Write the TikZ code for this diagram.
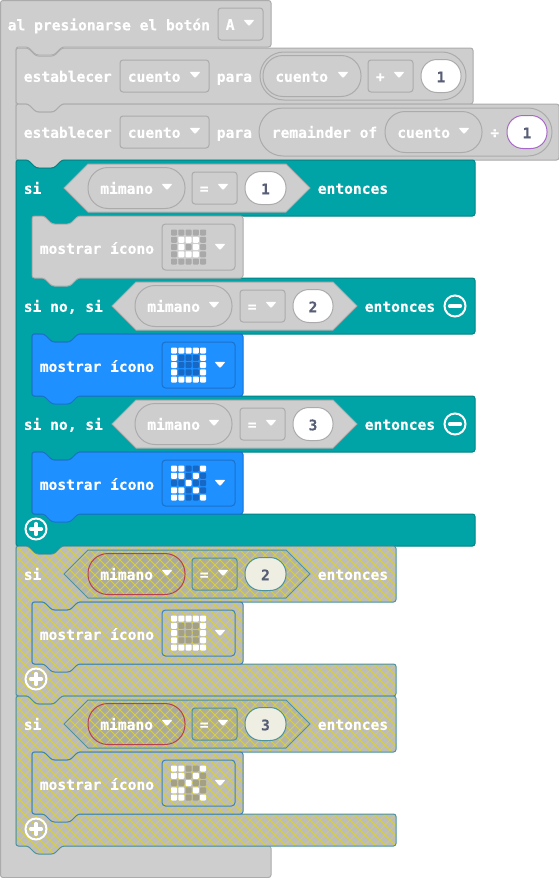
\documentclass[tikz,border=0pt]{standalone}
\usepackage{fontspec}
\newfontfamily\blockfont[BoldFont={DejaVu Sans Mono Bold},BoldFeatures={FakeBold=0.25}]{DejaVu Sans Mono}
\definecolor{grayfill}{HTML}{CECECE}
\definecolor{grayline}{HTML}{ABABAB}
\definecolor{tealfill}{HTML}{00A4A6}
\definecolor{tealline}{HTML}{008385}
\definecolor{bluefill}{HTML}{1E90FF}
\definecolor{blueline}{HTML}{1A72CC}
\definecolor{hatchline}{HTML}{D6D040}
\definecolor{hatchedge}{HTML}{4A92A0}
\definecolor{hatchblue}{HTML}{3A84B8}
\definecolor{hatchred}{HTML}{B84050}
\definecolor{numtext}{HTML}{575E75}
\definecolor{numpale}{HTML}{EEEEE2}
\definecolor{numedge}{HTML}{A868C8}
\definecolor{dimgray}{HTML}{A9A9A9}
\definecolor{dimblue}{HTML}{1668C4}
\definecolor{dimhatch}{HTML}{A3A084}
\definecolor{basehatch}{HTML}{BCBCBC}
\definecolor{basehex}{HTML}{B4B4AA}
\definecolor{basepill}{HTML}{AAAAA0}
\definecolor{basedrop}{HTML}{B0AE98}
\tikzset{
  crosshatch/.style={fill=#1,path picture={
    \foreach \k in {-320,-310,...,400}
      \draw[hatchline,line width=1pt] (\k,540) -- (\k+320,860) (\k,860) -- (\k+320,540);
  }},
  lbl/.style={font=\blockfont\bfseries\fontsize{14.6}{16}\selectfont,text=white,anchor=base west,inner sep=0pt,xshift=-0.7pt,yshift=-0.8pt},
  numlbl/.style={font=\blockfont\bfseries\fontsize{14.6}{16}\selectfont,text=numtext,anchor=base,inner sep=0pt,yshift=-0.8pt},
  graybox/.style={draw=grayline,fill=grayfill},
  tealblock/.style={draw=tealline,fill=tealfill},
  blueblock/.style={draw=blueline,fill=bluefill},
  hatchblock/.style={draw=hatchedge,crosshatch=basehatch},
  hatchicon/.style={draw=hatchblue,crosshatch=basehatch},
  hatchhex/.style={draw=hatchedge,crosshatch=basehex},
  hatchpill/.style={draw=hatchred,crosshatch=basepill},
  hatchdrop/.style={draw=hatchedge,crosshatch=basedrop},
  numwhite/.style={draw=grayline,fill=white},
  numhatch/.style={draw=hatchedge,fill=numpale},
  numpurple/.style={draw=numedge,fill=white},
}
% statement block with notch and tab
\newcommand{\stackblock}[5]{%
  \draw[#1,rounded corners=2.5pt] (#2,#3) -- (#2+12,#3) -- (#2+20,#3+8) -- (#2+38,#3+8) -- (#2+46,#3)
    -- (#4,#3) -- (#4,#5) -- (#2+46,#5) -- (#2+38,#5+8) -- (#2+20,#5+8) -- (#2+12,#5) -- (#2,#5) -- cycle;
}
% c-shaped block: style, top, right, cavities, bottom
\newcommand{\cblock}[5]{%
  \draw[#1,rounded corners=2.5pt] (16,#2) -- (28,#2) -- (36,#2+8) -- (54,#2+8) -- (62,#2) -- (#3,#2)
    \foreach \ya/\yb in {#4} {
      -- (#3,\ya) -- (78,\ya) -- (70,\ya+8) -- (52,\ya+8) -- (44,\ya) -- (32,\ya) -- (32,\yb) -- (#3,\yb)
    }
    -- (#3,#5) -- (62,#5) -- (54,#5+8) -- (36,#5+8) -- (28,#5) -- (16,#5) -- cycle;
}
\newcommand{\droptri}[2]{%
  \fill[white,rounded corners=1pt] (#1-5.5,#2-3.2) -- (#1+5.5,#2-3.2) -- (#1,#2+3.2) -- cycle;
}
\newcommand{\dropbox}[6]{%
  \draw[#2,rounded corners=3pt] (#3,#4-16) rectangle (#5,#4+16);
  \node[lbl] (#1) at (#3+8,#4+5) {#6};
  \droptri{#5-14}{#4-1}
}
\newcommand{\varpill}[6]{%
  \draw[#2,rounded corners=20pt] (#3,#4-20.5) rectangle (#5,#4+20.5);
  \node[lbl] (#1) at (#3+12.5,#4+5) {#6};
  \droptri{#5-18}{#4-1}
}
\newcommand{\numpill}[6]{%
  \draw[#2,rounded corners=16pt] (#3,#4-16.5) rectangle (#5,#4+16.5);
  \node[numlbl] (#1) at ({(#3+#5)/2},#4+5.5) {#6};
}
\newcommand{\hexfield}[4]{%
  \draw[#1] (#2,#3) -- (#2+24,#3-24) -- (#4-24,#3-24) -- (#4,#3) -- (#4-24,#3+24) -- (#2+24,#3+24) -- cycle;
}
% led grid of an icon
\newcommand{\ledgrid}[3]{%
  \foreach \on [count=\n from 0] in #3 {
    \pgfmathtruncatemacro{\cc}{mod(\n,5)}
    \pgfmathtruncatemacro{\rr}{int(\n/5)}
    \ifnum\on=1 \def\ledcol{white}\else \def\ledcol{#2}\fi
    \fill[\ledcol,rounded corners=0.8pt] (171+\cc*7.25,#1+\rr*7.25) rectangle ++(6,6);
  }
}
\newcommand{\iconblock}[6]{% name, block style, box style, dim colour, top, leds
  \stackblock{#2}{32}{#5}{243}{#5+62}
  \node[lbl] (#1) at (40,#5+37) {mostrar ícono};
  \draw[#3,rounded corners=3.5pt] (162,#5+8) rectangle (235,#5+54);
  \ledgrid{#5+13.5}{#4}{#6}
  \droptri{220}{#5+31}
}
\newcommand{\plussign}[1]{%
  \draw[white,line width=2pt] (36,#1) circle (10.5);
  \draw[white,line width=3.2pt,line cap=round] (30.5,#1) -- (41.5,#1) (36,#1-5.5) -- (36,#1+5.5);
}
\newcommand{\minussign}[1]{%
  \draw[white,line width=2pt] (455,#1) circle (10.5);
  \draw[white,line width=3.2pt,line cap=round] (449.5,#1) -- (460.5,#1);
}
\def\ledring{1,1,1,1,1,1,0,0,0,1,1,0,0,0,1,1,0,0,0,1,1,1,1,1,1}
\def\ledsmall{0,0,0,0,0,0,1,1,1,0,0,1,0,1,0,0,1,1,1,0,0,0,0,0,0}
\def\ledcut{1,1,0,0,1,1,1,0,1,0,0,0,1,0,0,1,1,0,1,0,1,1,0,0,1}
\begin{document}
\begin{tikzpicture}[x=1pt,y=-1pt,line width=1pt]
\useasboundingbox (0,0) rectangle (559,878);
\fill[white] (0,0) rectangle (559,878);
% event block
\draw[graybox,rounded corners=2.5pt] (0.5,0.5) -- (271,0.5) -- (271,47) -- (62,47) -- (54,55) -- (36,55) -- (28,47) -- (16,47) -- (16,846) -- (271,846) -- (271,877.5) -- (0.5,877.5) -- cycle;
\node[lbl] (hat) at (8,29.5) {al presionarse el botón};
\dropbox{btn}{graybox}{218}{24}{263}{A}
% first set
\stackblock{graybox}{16}{48}{473}{104}
\node[lbl] (seta) at (24,81) {establecer};
\dropbox{varA}{graybox}{120}{76}{209}{cuento}
\node[lbl] (paraA) at (217,81) {para};
\draw[graybox,rounded corners=24pt] (260,52) rectangle (466,100);
\varpill{cntA}{graybox}{263}{76}{361}{cuento}
\dropbox{opA}{graybox}{368}{76}{413}{+}
\numpill{oneA}{numwhite}{421}{76}{461}{1}
% second set
\stackblock{graybox}{16}{104}{559}{160}
\node[lbl] (setb) at (24,137) {establecer};
\dropbox{varB}{graybox}{120}{132}{209}{cuento}
\node[lbl] (paraB) at (217,137) {para};
\draw[graybox,rounded corners=24pt] (259,108) rectangle (552,156);
\node[lbl] (rem) at (272,137) {remainder of};
\varpill{cntB}{graybox}{385}{132}{482}{cuento}
\node[lbl] (divB) at (490.5,137) {÷};
\numpill{oneB}{numpurple}{507}{132}{547}{1}
% first if
\cblock{tealblock}{160}{475}{216/278,334/396,452/514}{546}
\node[lbl] (siA) at (24,193) {si};
\hexfield{graybox}{64}{188}{310}
\varpill{miA}{graybox}{88}{188}{185}{mimano}
\dropbox{eqA}{graybox}{192}{188}{237}{=}
\numpill{numA}{numwhite}{245}{188}{286}{1}
\node[lbl] (thenA) at (318,193) {entonces};
\iconblock{icoA}{graybox}{graybox}{dimgray}{216}{\ledsmall}
\node[lbl] (siB) at (24,311) {si no, si};
\hexfield{graybox}{112}{306}{357}
\varpill{miB}{graybox}{135}{306}{232}{mimano}
\dropbox{eqB}{graybox}{240}{306}{285}{=}
\numpill{numB}{numwhite}{293}{306}{333}{2}
\node[lbl] (thenB) at (365,311) {entonces};
\minussign{306}
\iconblock{icoB}{blueblock}{blueblock}{dimblue}{334}{\ledring}
\node[lbl] (siC) at (24,429) {si no, si};
\hexfield{graybox}{112}{424}{357}
\varpill{miC}{graybox}{135}{424}{232}{mimano}
\dropbox{eqC}{graybox}{240}{424}{285}{=}
\numpill{numC}{numwhite}{293}{424}{333}{3}
\node[lbl] (thenC) at (365,429) {entonces};
\minussign{424}
\iconblock{icoC}{blueblock}{blueblock}{dimblue}{452}{\ledcut}
\plussign{529}
% disabled if blocks
\cblock{hatchblock}{546}{396}{602/664}{696}
\node[lbl] (siD) at (24,579) {si};
\hexfield{hatchhex}{64}{574}{310}
\varpill{miD}{hatchpill}{88}{574}{185}{mimano}
\dropbox{eqD}{hatchdrop}{192}{574}{237}{=}
\numpill{numD}{numhatch}{245}{574}{286}{2}
\node[lbl] (thenD) at (318,579) {entonces};
\iconblock{icoD}{hatchicon}{hatchicon}{dimhatch}{602}{\ledring}
\plussign{679}
\cblock{hatchblock}{696}{396}{752/814}{846}
\node[lbl] (siE) at (24,729) {si};
\hexfield{hatchhex}{64}{724}{310}
\varpill{miE}{hatchpill}{88}{724}{185}{mimano}
\dropbox{eqE}{hatchdrop}{192}{724}{237}{=}
\numpill{numE}{numhatch}{245}{724}{286}{3}
\node[lbl] (thenE) at (318,729) {entonces};
\iconblock{icoE}{hatchicon}{hatchicon}{dimhatch}{752}{\ledcut}
\plussign{829}
\end{tikzpicture}
\end{document}
